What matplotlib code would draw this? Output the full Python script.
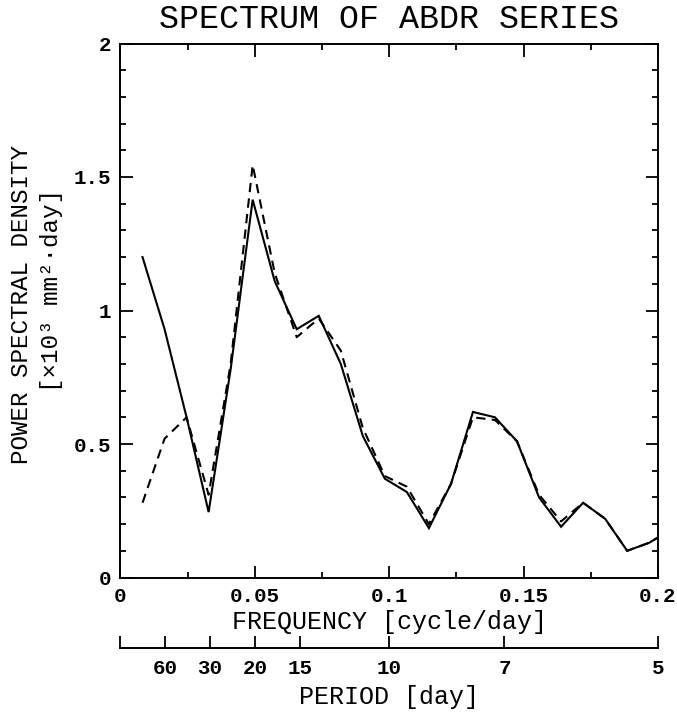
import matplotlib
matplotlib.use('Agg')
import matplotlib.pyplot as plt
import numpy as np
from matplotlib.ticker import MultipleLocator

# spectral estimates at harmonic frequencies k/122 cycle/day
harmonic = np.arange(1, 26)
freq = harmonic / 122.0
psd_solid = [1.20, 0.93, 0.60, 0.245, 0.78, 1.415, 1.11, 0.93, 0.98, 0.80,
             0.53, 0.37, 0.32, 0.185, 0.35, 0.62, 0.60, 0.51, 0.30, 0.19,
             0.28, 0.22, 0.10, 0.13, 0.18]
psd_dashed = [0.28, 0.52, 0.60, 0.31, 0.80, 1.545, 1.14, 0.90, 0.97, 0.85,
              0.56, 0.38, 0.34, 0.20, 0.35, 0.60, 0.59, 0.51, 0.31, 0.21,
              0.28, 0.22, 0.10, 0.13, 0.18]
periods = [60, 30, 20, 15, 10, 7, 5]

plt.rcParams['font.family'] = ['Liberation Mono', 'DejaVu Sans Mono']

W, H = 677, 715
fig = plt.figure(figsize=(W / 100, H / 100), dpi=100)
x0, x1 = 120.5, 658
y0, y1 = 577.5, 43.5
ax = fig.add_axes([x0 / W, 1 - y0 / H, (x1 - x0) / W, (y0 - y1) / H])

ax.plot(freq, psd_solid, color='black', lw=1.5, solid_joinstyle='miter')
ax.plot(freq, psd_dashed, color='black', lw=1.5, dashes=(4.5, 3))

ax.set_xlim(0, 0.2)
ax.set_ylim(0, 2)
ax.xaxis.set_minor_locator(MultipleLocator(0.025))
ax.yaxis.set_minor_locator(MultipleLocator(0.1))
ax.set_xticks([0, 0.05, 0.1, 0.15, 0.2])
ax.set_xticklabels(['0', '0.05', '0.1', '0.15', '0.2'])
ax.set_yticks([0, 0.5, 1, 1.5, 2])
ax.set_yticklabels(['0', '0.5', '1', '1.5', '2'])
ax.tick_params(which='both', direction='in', top=True, right=True,
               width=1.3, labelsize=15)
ax.tick_params(which='major', length=9, pad=7)
ax.tick_params(which='minor', length=4.5)
for lab in ax.get_xticklabels() + ax.get_yticklabels():
    lab.set_fontweight('bold')
for sp in ax.spines.values():
    sp.set_linewidth(1.4)

ax.set_xlabel('FREQUENCY [cycle/day]', fontsize=18, labelpad=3)
ax.set_title('SPECTRUM OF ABDR SERIES', fontsize=24, pad=11)

fig.text(22 / W, 1 - 304 / H, 'POWER SPECTRAL DENSITY', rotation=90,
         ha='center', va='center', fontsize=17.5)
fig.text(52 / W, 1 - 291 / H, '[×10³ mm²·day]', rotation=90,
         ha='center', va='center', fontsize=17.5)

# period axis below
ay = 648
ax2 = fig.add_axes([x0 / W, 1 - ay / H, (x1 - x0) / W, 0.001])
ax2.set_xlim(0, 0.2)
for s in ['top', 'left', 'right']:
    ax2.spines[s].set_visible(False)
ax2.spines['bottom'].set_linewidth(1.4)
ax2.set_yticks([])
ax2.set_xticks([0] + [1.0 / p for p in periods])
ax2.set_xticklabels([''] + [str(p) for p in periods], fontweight='bold')
ax2.tick_params(axis='x', direction='in', length=9, width=1.3,
                labelsize=15, pad=8)
ax2.set_xlabel('PERIOD [day]', fontsize=18, labelpad=5)

fig.savefig('out.png', dpi=100)
